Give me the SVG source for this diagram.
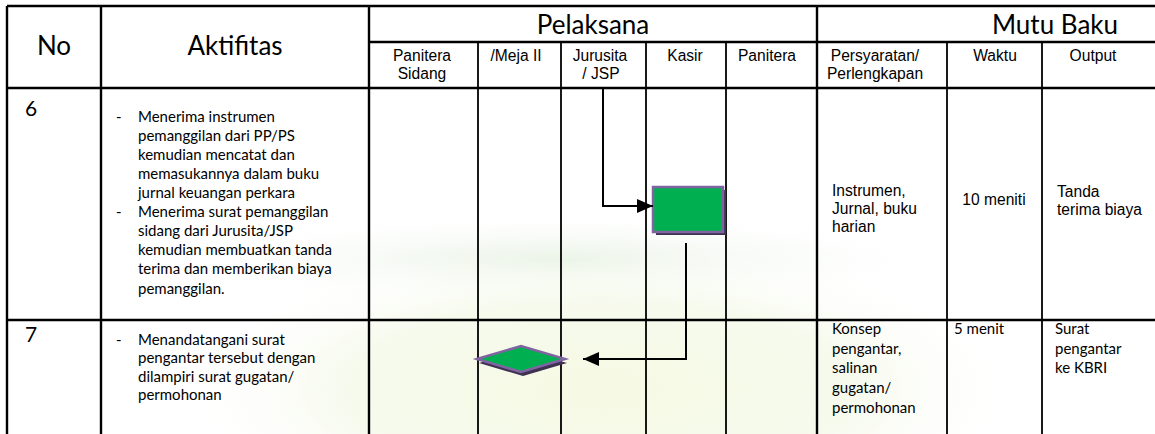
<svg xmlns="http://www.w3.org/2000/svg" width="1155" height="434" viewBox="0 0 1155 434">
<style>
.bg{fill:#ffffff}
.thick{stroke:#000;stroke-width:2.4;fill:none}
.thin{stroke:#000;stroke-width:1.8;fill:none}
.hdr{font-family:Lato,"Open Sans",sans-serif;font-size:26px;fill:#000}
.sub{font-family:"Liberation Sans",Arial,sans-serif;font-size:15.6px;fill:#000}
.num{font-family:Lato,"Open Sans",sans-serif;font-size:21px;fill:#000}
.act{font-family:Lato,"Open Sans",sans-serif;font-size:15px;fill:#000}
.conn{stroke:#000;stroke-width:2;fill:none}
</style>
<defs>
<radialGradient id="wm1" cx="0.5" cy="0.5" r="0.5">
<stop offset="0" stop-color="#f6f9e2" stop-opacity="1"/>
<stop offset="0.6" stop-color="#f3f8e6" stop-opacity="0.7"/>
<stop offset="1" stop-color="#ffffff" stop-opacity="0"/>
</radialGradient>
<radialGradient id="wm2" cx="0.5" cy="0.5" r="0.5">
<stop offset="0" stop-color="#e4f0e0" stop-opacity="0.9"/>
<stop offset="1" stop-color="#ffffff" stop-opacity="0"/>
</radialGradient>
<marker id="ah" viewBox="0 0 16 14" refX="16" refY="7" markerWidth="16" markerHeight="14" markerUnits="userSpaceOnUse" orient="auto">
<path d="M0,0 L16,7 L0,14 Z" fill="#000"/>
</marker>
</defs>
<rect class="bg" x="0" y="0" width="1155" height="434"/>
<g id="watermark">
<ellipse cx="560" cy="260" rx="420" ry="50" fill="url(#wm2)"/>
<ellipse cx="600" cy="390" rx="430" ry="150" fill="url(#wm1)"/>
</g>
<g id="grid">
<line class="thick" x1="7" y1="6" x2="1155" y2="6"/>
<line class="thick" x1="369" y1="42" x2="1155" y2="42"/>
<line class="thick" x1="7" y1="88" x2="1155" y2="88"/>
<line class="thick" x1="7" y1="320" x2="1155" y2="320"/>
<line class="thick" x1="7" y1="6" x2="7" y2="434"/>
<line class="thick" x1="101" y1="6" x2="101" y2="434"/>
<line class="thick" x1="369" y1="6" x2="369" y2="434"/>
<line class="thick" x1="817" y1="6" x2="817" y2="434"/>
<line class="thin" x1="478" y1="42" x2="478" y2="434"/>
<line class="thin" x1="561" y1="42" x2="561" y2="434"/>
<line class="thin" x1="646" y1="42" x2="646" y2="434"/>
<line class="thin" x1="726" y1="42" x2="726" y2="434"/>
<line class="thin" x1="947" y1="42" x2="947" y2="434"/>
<line class="thin" x1="1042" y1="42" x2="1042" y2="434"/>
</g>
<g id="header">
<text class="hdr" x="54" y="55" text-anchor="middle">No</text>
<text class="hdr" x="235" y="55" text-anchor="middle">Aktifitas</text>
<text class="hdr" x="593" y="34" text-anchor="middle">Pelaksana</text>
<text class="hdr" x="1055" y="34" text-anchor="middle">Mutu Baku</text>
<text class="sub" x="422" y="61" text-anchor="middle">Panitera</text>
<text class="sub" x="422" y="79" text-anchor="middle">Sidang</text>
<text class="sub" x="516" y="61" text-anchor="middle">/Meja II</text>
<text class="sub" x="600" y="61" text-anchor="middle">Jurusita</text>
<text class="sub" x="601" y="79" text-anchor="middle">/ JSP</text>
<text class="sub" x="685" y="61" text-anchor="middle">Kasir</text>
<text class="sub" x="767" y="61" text-anchor="middle">Panitera</text>
<text class="sub" x="875" y="61" text-anchor="middle">Persyaratan/</text>
<text class="sub" x="875" y="79" text-anchor="middle">Perlengkapan</text>
<text class="sub" x="995" y="61" text-anchor="middle">Waktu</text>
<text class="sub" x="1093" y="61" text-anchor="middle">Output</text>
</g>
<g id="row6">
<text class="num" x="25" y="116">6</text>
<text class="act" x="116" y="122">-</text>
<text class="act" x="138" y="122">Menerima instrumen</text>
<text class="act" x="138" y="141">pemanggilan dari PP/PS</text>
<text class="act" x="138" y="160">kemudian mencatat dan</text>
<text class="act" x="138" y="179">memasukannya dalam buku</text>
<text class="act" x="138" y="198">jurnal keuangan perkara</text>
<text class="act" x="116" y="217">-</text>
<text class="act" x="138" y="217">Menerima surat pemanggilan</text>
<text class="act" x="138" y="236">sidang dari Jurusita/JSP</text>
<text class="act" x="138" y="255">kemudian membuatkan tanda</text>
<text class="act" x="138" y="274">terima dan memberikan biaya</text>
<text class="act" x="138" y="294">pemanggilan.</text>
<text class="sub" x="832" y="196">Instrumen,</text>
<text class="sub" x="832" y="214">Jurnal, buku</text>
<text class="sub" x="832" y="232">harian</text>
<text class="sub" x="994" y="205" text-anchor="middle">10 meniti</text>
<text class="sub" x="1057" y="197">Tanda</text>
<text class="sub" x="1057" y="215">terima biaya</text>
</g>
<g id="node-kasir">
<rect x="656" y="190" width="70" height="45" fill="#3f3151"/>
<rect x="653" y="187" width="70" height="45" fill="#00b050" stroke="#8064a2" stroke-width="2.5"/>
</g>
<g id="row7">
<text class="num" x="25" y="342">7</text>
<text class="act" x="116" y="345">-</text>
<text class="act" x="138" y="345">Menandatangani surat</text>
<text class="act" x="138" y="363">pengantar tersebut dengan</text>
<text class="act" x="138" y="382">dilampiri surat gugatan/</text>
<text class="act" x="138" y="400">permohonan</text>
<text class="act" x="832" y="334">Konsep</text>
<text class="act" x="832" y="354">pengantar,</text>
<text class="act" x="832" y="373">salinan</text>
<text class="act" x="832" y="393">gugatan/</text>
<text class="act" x="832" y="413">permohonan</text>
<text class="act" x="954" y="334">5 menit</text>
<text class="act" x="1055" y="334">Surat</text>
<text class="act" x="1055" y="354">pengantar</text>
<text class="act" x="1055" y="373">ke KBRI</text>
</g>
<g id="node-diamond">
<polygon points="479,363 523,350 567,363 523,376" fill="#3f3151"/>
<polygon points="477,359 521,346 565,359 521,372" fill="#00b050" stroke="#8064a2" stroke-width="2.5"/>
</g>
<g id="connectors">
<polyline class="conn" points="603,88 603,206 653,206" marker-end="url(#ah)"/>
<polyline class="conn" points="686,243 686,359 583,359" marker-end="url(#ah)"/>
</g>
</svg>
